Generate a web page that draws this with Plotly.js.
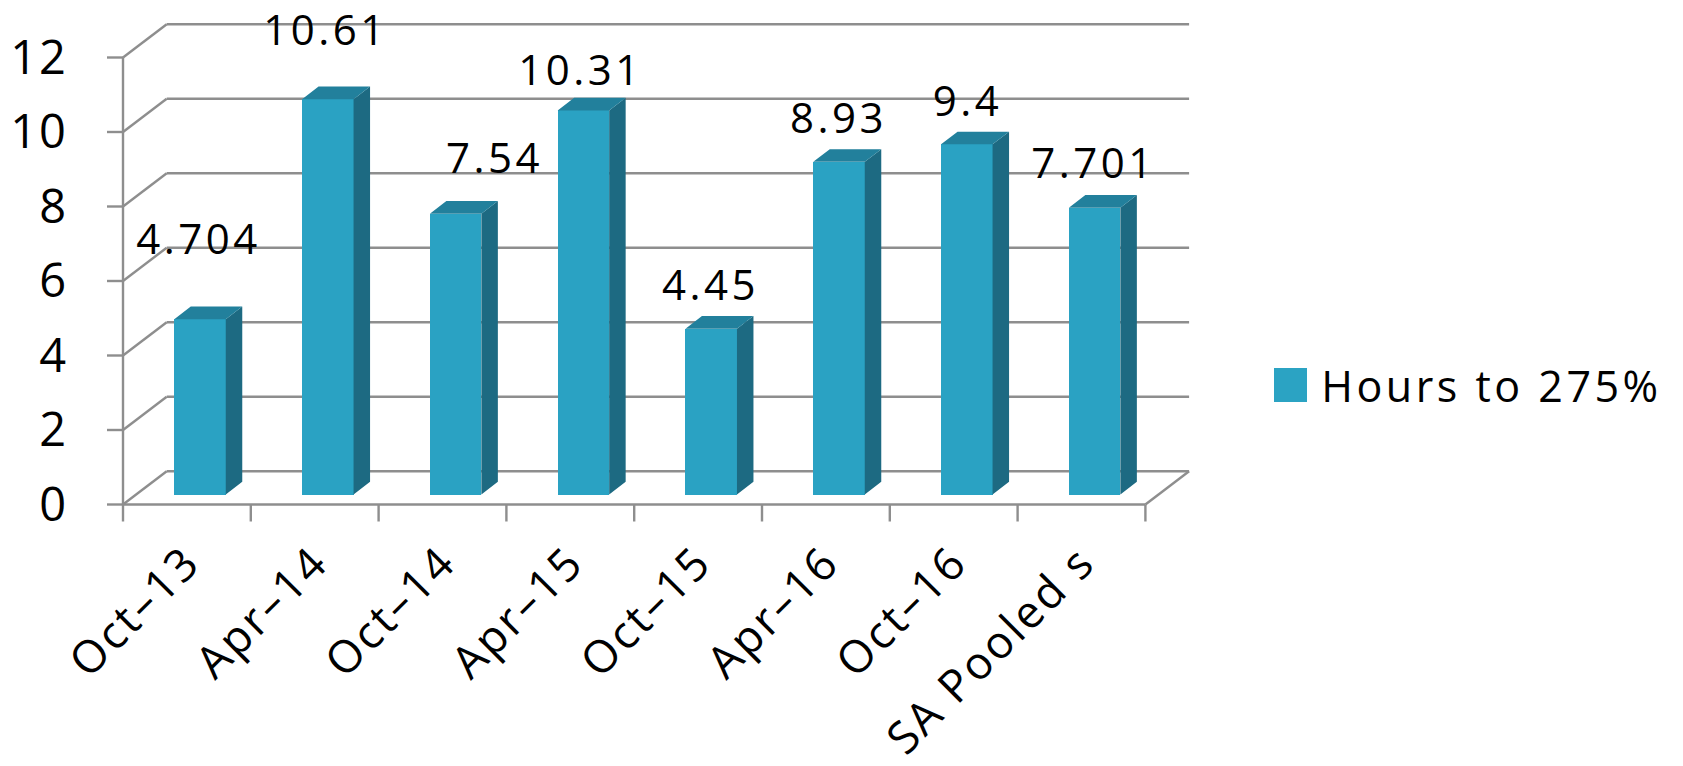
<!DOCTYPE html>
<html>
<head>
<meta charset="utf-8">
<script src="https://cdn.plot.ly/plotly-3.0.1.min.js"></script>
<style>
  html, body { margin: 0; padding: 0; background: #ffffff; }
  #chart { width: 1683px; height: 766px; }
  #chart .xtick text { letter-spacing: 2.5px; }
  #chart .ytick text { letter-spacing: 2px; }
  #chart .annotation-text { letter-spacing: 3.5px; }
</style>
</head>
<body>
<div id="chart"></div>
<script>
// ---------------- data ----------------
const categories = ['Oct–13', 'Apr–14', 'Oct–14', 'Apr–15', 'Oct–15', 'Apr–16', 'Oct–16', 'SA Pooled s'];
const hoursTo275 = [4.704, 10.61, 7.54, 10.31, 4.45, 8.93, 9.4, 7.701];
const valueLabels = ['4.704', '10.61', '7.54', '10.31', '4.45', '8.93', '9.4', '7.701'];
const yTickVals = [0, 2, 4, 6, 8, 10, 12];
const seriesName = 'Hours to 275%';

// ---------------- style / geometry ----------------
const W = 1683, H = 766;
const M = { l: 103, r: 491, t: 20, b: 243 };
const plotW = W - M.l - M.r, plotH = H - M.t - M.b;
const PX_PER_CAT = 127.8;      // pixels per category
const PX_PER_UNIT = 37.25;     // pixels per value unit
const FRONT_LEFT_PX = 123;     // pixel x of front-left corner
const FRONT_ZERO_PX = 504.5;   // pixel y of front floor line
const XMIN = -0.5 - (FRONT_LEFT_PX - M.l) / PX_PER_CAT;
const XMAX = XMIN + plotW / PX_PER_CAT;
const YMIN = -((H - M.b) - FRONT_ZERO_PX) / PX_PER_UNIT;
const YMAX = YMIN + plotH / PX_PER_UNIT;

const DX = 43.7 / PX_PER_CAT;   // full depth, x
const DY = 33.3 / PX_PER_UNIT;  // full depth, y
const F = 0.30;                 // depth fraction of bar front
const SX = F * DX, BASE = F * DY;
const BW = 51.5 / PX_PER_CAT;
const BDX = 16.5 / PX_PER_CAT, BDY = 12.7 / PX_PER_UNIT;
const TLX = 16 / PX_PER_CAT, TLY = 17 / PX_PER_UNIT;

const C_FRONT = '#2aa2c3', C_SIDE = '#1d6a82', C_TOP = '#22809c';
const C_GRID = '#8e8e8e', GRID_W = 2.4;
const FONT = '"Open Sans", "Noto Sans", sans-serif';

// per-label pixel offsets of the data labels (relative to bar front top centre)
const labelDxPx = [-2, -2, 39, -3, -0.5, -0.5, 1, -1.5];
const labelDyPx = [82, 71, 57.5, 42, 45.5, 45.4, 44.5, 46.5];

const idx = categories.map((c, i) => i);
const nCat = categories.length;
const xFront = idx.map(i => i + SX);

// ---------------- traces ----------------
const frontBars = {
  type: 'bar', name: seriesName, x: xFront, y: hoursTo275, base: BASE, width: BW,
  marker: { color: C_FRONT, line: { width: 0 } }, showlegend: false, hoverinfo: 'skip'
};

const sideX = [], sideY = [], topX = [], topY = [];
hoursTo275.forEach((v, i) => {
  const xl = xFront[i] - BW / 2, xr = xFront[i] + BW / 2;
  sideX.push(xr, xr + BDX, xr + BDX, xr, xr, null);
  sideY.push(BASE, BASE + BDY, BASE + v + BDY, BASE + v, BASE, null);
  topX.push(xl, xr, xr + BDX, xl + BDX, xl, null);
  topY.push(BASE + v, BASE + v, BASE + v + BDY, BASE + v + BDY, BASE + v, null);
});
const sideFaces = { type: 'scatter', mode: 'lines', x: sideX, y: sideY, fill: 'toself',
  fillcolor: C_SIDE, line: { width: 0, color: C_SIDE }, showlegend: false, hoverinfo: 'skip' };
const topFaces = { type: 'scatter', mode: 'lines', x: topX, y: topY, fill: 'toself',
  fillcolor: C_TOP, line: { width: 0, color: C_TOP }, showlegend: false, hoverinfo: 'skip' };

// ---------------- shapes (3-D walls, axes, ticks) ----------------
const shapes = [];
function seg(x0, y0, x1, y1) {
  shapes.push({ type: 'line', xref: 'x', yref: 'y', x0, y0, x1, y1, layer: 'below',
    line: { color: C_GRID, width: GRID_W } });
}
const xl0 = -0.5, xr0 = nCat - 0.5;
const yTop = yTickVals[yTickVals.length - 1];
yTickVals.forEach(v => {
  seg(xl0, v, xl0 + DX, v + DY);               // left wall diagonal
  seg(xl0 + DX, v + DY, xr0 + DX, v + DY);     // back wall line
  seg(xl0 - TLX, v, xl0, v);                   // y tick mark
});
seg(xl0, 0, xl0, yTop);                        // front vertical axis
seg(xl0, 0, xr0, 0);                           // front floor edge
seg(xr0, 0, xr0 + DX, DY);                     // right floor edge
for (let k = 0; k <= nCat; k++) seg(k - 0.5, 0, k - 0.5, -TLY);  // x tick marks

// legend swatch
const px2paperX = px => (px - M.l) / plotW;
const px2paperY = py => ((H - M.b) - py) / plotH;
shapes.push({ type: 'rect', xref: 'paper', yref: 'paper',
  x0: px2paperX(1274), x1: px2paperX(1307), y0: px2paperY(402), y1: px2paperY(368),
  fillcolor: '#2ba3c3', line: { width: 0 } });

// ---------------- annotations ----------------
const annotations = hoursTo275.map((v, i) => ({
  x: xFront[i], y: BASE + v, xref: 'x', yref: 'y', text: valueLabels[i], showarrow: false,
  xanchor: 'center', yanchor: 'middle', xshift: labelDxPx[i], yshift: labelDyPx[i],
  font: { family: FONT, size: 42, color: '#000000' }
}));
annotations.push({ x: px2paperX(1342), y: px2paperY(385), xref: 'paper', yref: 'paper',
  text: seriesName, showarrow: false, xanchor: 'left', yanchor: 'middle',
  font: { family: FONT, size: 43, color: '#000000' } });

// ---------------- layout ----------------
const layout = {
  width: W, height: H, margin: M, paper_bgcolor: '#ffffff', plot_bgcolor: 'rgba(0,0,0,0)',
  showlegend: false, hovermode: false, bargap: 0,
  xaxis: { type: 'linear', range: [XMIN, XMAX], tickmode: 'array', tickvals: idx, ticktext: categories,
    tickangle: -45, ticks: '', showgrid: false, zeroline: false, showline: false,
    tickfont: { family: FONT, size: 45, color: '#000000' }, ticklabelstandoff: 3, fixedrange: true },
  yaxis: { type: 'linear', range: [YMIN, YMAX], tickmode: 'array', tickvals: yTickVals,
    ticktext: yTickVals.map(String), ticks: '', showgrid: false, zeroline: false, showline: false,
    tickfont: { family: FONT, size: 47, color: '#000000' }, ticklabelstandoff: 34, fixedrange: true },
  shapes, annotations
};

Plotly.newPlot('chart', [frontBars, sideFaces, topFaces], layout, { displayModeBar: false, staticPlot: true });
</script>
</body>
</html>
